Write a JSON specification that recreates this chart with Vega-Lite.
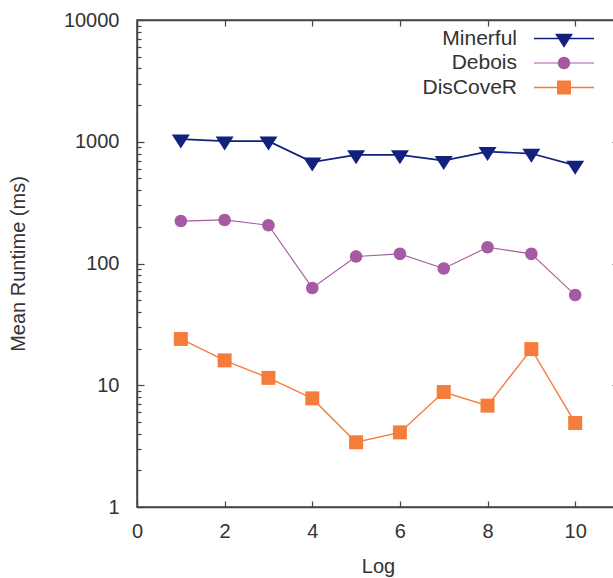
{
  "$schema": "https://vega.github.io/schema/vega-lite/v6.json",
  "width": 482,
  "height": 487,
  "autosize": "none",
  "padding": {"left": 137, "top": 20, "right": 0, "bottom": 71},
  "background": "white",
  "config": {
    "view": {"stroke": "#444444", "strokeWidth": 1.5},
    "font": "Liberation Sans",
    "axis": {
      "domainColor": "#444444", "domainWidth": 1.5,
      "tickColor": "#444444", "tickWidth": 1.2,
      "labelFont": "Liberation Sans", "labelFontSize": 20, "labelColor": "#333333",
      "titleFont": "Liberation Sans", "titleFontSize": 20, "titleFontWeight": "normal", "titleColor": "#333333",
      "grid": false
    },
    "legend": {
      "title": null,
      "orient": "none",
      "legendX": 416.5,
      "legendY": 8,
      "padding": 0,
      "labelAlign": "right",
      "labelOffset": -57.5,
      "labelFont": "Liberation Sans",
      "labelFontSize": 21,
      "labelColor": "#333333",
      "symbolSize": 100,
      "symbolStrokeWidth": 0,
      "symbolOpacity": 1,
      "rowPadding": 2.5
    }
  },
  "data": {
    "values": [
      {"log": 1, "solver": "Minerful", "ms": 1050},
      {"log": 2, "solver": "Minerful", "ms": 1010},
      {"log": 3, "solver": "Minerful", "ms": 1010},
      {"log": 4, "solver": "Minerful", "ms": 680},
      {"log": 5, "solver": "Minerful", "ms": 780},
      {"log": 6, "solver": "Minerful", "ms": 780},
      {"log": 7, "solver": "Minerful", "ms": 700},
      {"log": 8, "solver": "Minerful", "ms": 830},
      {"log": 9, "solver": "Minerful", "ms": 800},
      {"log": 10, "solver": "Minerful", "ms": 640},
      {"log": 1, "solver": "Debois", "ms": 223},
      {"log": 2, "solver": "Debois", "ms": 228},
      {"log": 3, "solver": "Debois", "ms": 206},
      {"log": 4, "solver": "Debois", "ms": 63},
      {"log": 5, "solver": "Debois", "ms": 114},
      {"log": 6, "solver": "Debois", "ms": 120},
      {"log": 7, "solver": "Debois", "ms": 91},
      {"log": 8, "solver": "Debois", "ms": 136},
      {"log": 9, "solver": "Debois", "ms": 120},
      {"log": 10, "solver": "Debois", "ms": 55},
      {"log": 1, "solver": "DisCoveR", "ms": 24},
      {"log": 2, "solver": "DisCoveR", "ms": 16},
      {"log": 3, "solver": "DisCoveR", "ms": 11.5},
      {"log": 4, "solver": "DisCoveR", "ms": 7.8},
      {"log": 5, "solver": "DisCoveR", "ms": 3.4},
      {"log": 6, "solver": "DisCoveR", "ms": 4.1},
      {"log": 7, "solver": "DisCoveR", "ms": 8.8},
      {"log": 8, "solver": "DisCoveR", "ms": 6.8},
      {"log": 9, "solver": "DisCoveR", "ms": 19.8},
      {"log": 10, "solver": "DisCoveR", "ms": 4.9}
    ]
  },
  "layer": [
    {
      "transform": [{"filter": "datum.solver === 'Minerful'"}],
      "mark": {"type": "line", "strokeWidth": 1.7, "color": "#13217e"},
      "encoding": {
        "x": {
          "field": "log", "type": "quantitative",
          "scale": {"domain": [0, 11], "nice": false, "zero": false},
          "axis": {"orient": "bottom", "values": [0, 2, 4, 6, 8, 10], "tickSize": -6, "labelPadding": 20, "labelFlush": false, "title": "Log", "titlePadding": 15}
        },
        "y": {
          "field": "ms", "type": "quantitative",
          "scale": {"type": "log", "domain": [1, 10000], "nice": false},
          "axis": {
            "orient": "left",
            "values": [1,2,3,4,5,6,7,8,9,10,20,30,40,50,60,70,80,90,100,200,300,400,500,600,700,800,900,1000,2000,3000,4000,5000,6000,7000,8000,9000,10000],
            "format": "d",
            "labelExpr": "indexof([1,10,100,1000,10000], datum.value) >= 0 ? datum.label : ''",
            "labelOverlap": false,
            "tickSize": {"condition": {"test": "indexof([1,10,100,1000,10000], datum.value) >= 0", "value": -7}, "value": -4},
            "labelPadding": 25,
            "title": "Mean Runtime (ms)",
            "titlePadding": 35
          }
        }
      }
    },
    {
      "transform": [{"filter": "datum.solver === 'Debois'"}],
      "mark": {"type": "line", "strokeWidth": 1.1, "color": "#a65aa3"},
      "encoding": {
        "x": {"field": "log", "type": "quantitative", "axis": null},
        "y": {"field": "ms", "type": "quantitative", "axis": null}
      }
    },
    {
      "transform": [{"filter": "datum.solver === 'DisCoveR'"}],
      "mark": {"type": "line", "strokeWidth": 1.4, "color": "#f67c3b"},
      "encoding": {
        "x": {"field": "log", "type": "quantitative", "axis": null},
        "y": {"field": "ms", "type": "quantitative", "axis": null}
      }
    },
    {
      "transform": [{"filter": "datum.solver === 'Minerful'"}],
      "mark": {"type": "point", "filled": true, "opacity": 1, "size": 100, "strokeWidth": 0, "color": "#13217e", "shape": "M-1.8,-0.94H1.8L0,1.86Z"},
      "encoding": {
        "x": {"field": "log", "type": "quantitative", "axis": null},
        "y": {"field": "ms", "type": "quantitative", "axis": null}
      }
    },
    {
      "transform": [{"filter": "datum.solver === 'Debois'"}],
      "mark": {"type": "point", "filled": true, "opacity": 1, "size": 100, "strokeWidth": 0, "color": "#a65aa3", "shape": "M-1.25,0A1.25,1.25,0,1,1,1.25,0A1.25,1.25,0,1,1,-1.25,0Z"},
      "encoding": {
        "x": {"field": "log", "type": "quantitative", "axis": null},
        "y": {"field": "ms", "type": "quantitative", "axis": null}
      }
    },
    {
      "transform": [{"filter": "datum.solver === 'DisCoveR'"}],
      "mark": {"type": "point", "filled": true, "opacity": 1, "size": 100, "strokeWidth": 0, "color": "#f67c3b", "shape": "M-1.4,-1.4H1.4V1.4H-1.4Z"},
      "encoding": {
        "x": {"field": "log", "type": "quantitative", "axis": null},
        "y": {"field": "ms", "type": "quantitative", "axis": null}
      }
    },
    {
      "transform": [{"filter": "false"}],
      "mark": {"type": "point", "filled": true, "opacity": 1, "size": 100, "strokeWidth": 0},
      "encoding": {
        "x": {
          "field": "log", "type": "quantitative",
          "axis": {"orient": "top", "values": [0, 2, 4, 6, 8, 10], "tickSize": -6, "labels": false, "title": null}
        },
        "y": {
          "field": "ms", "type": "quantitative",
          "axis": {
            "orient": "right",
            "values": [1,2,3,4,5,6,7,8,9,10,20,30,40,50,60,70,80,90,100,200,300,400,500,600,700,800,900,1000,2000,3000,4000,5000,6000,7000,8000,9000,10000],
            "labels": false,
            "tickSize": {"condition": {"test": "indexof([1,10,100,1000,10000], datum.value) >= 0", "value": -7}, "value": -4},
            "title": null
          }
        },
        "color": {
          "field": "solver", "type": "nominal",
          "scale": {"domain": ["Minerful", "Debois", "DisCoveR"], "range": ["#13217e", "#a65aa3", "#f67c3b"]}
        },
        "shape": {
          "field": "solver", "type": "nominal",
          "scale": {
            "domain": ["Minerful", "Debois", "DisCoveR"],
            "range": [
              "M-6,-0.17H-1.1V0.17H-6Z M1.1,-0.17H6V0.17H1.1Z M-1.8,-0.94H1.8L0,1.86Z",
              "M-6,-0.11H-1.2V0.11H-6Z M1.2,-0.11H6V0.11H1.2Z M-1.25,0A1.25,1.25,0,1,1,1.25,0A1.25,1.25,0,1,1,-1.25,0Z",
              "M-6,-0.14H-1.4V0.14H-6Z M1.4,-0.14H6V0.14H1.4Z M-1.4,-1.4H1.4V1.4H-1.4Z"
            ]
          }
        }
      }
    }
  ],
  "resolve": {"axis": {"x": "independent", "y": "independent"}}
}
